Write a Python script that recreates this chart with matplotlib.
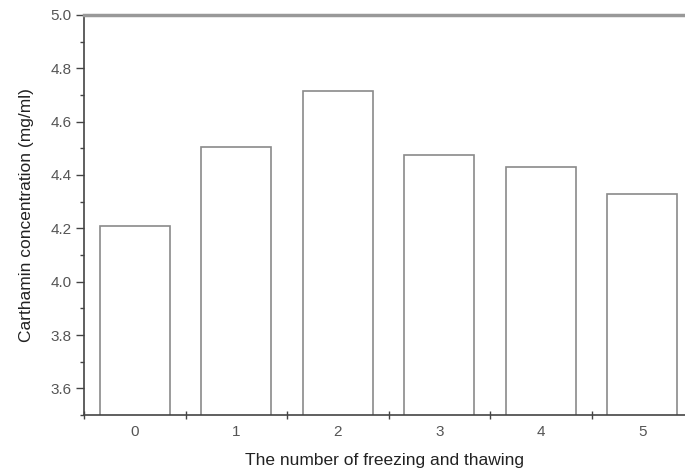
import matplotlib
matplotlib.use('Agg')
import matplotlib.pyplot as plt
from matplotlib.ticker import MultipleLocator, FixedLocator

plt.rcParams['font.family'] = ['Liberation Sans', 'DejaVu Sans']

cycles = [0, 1, 2, 3, 4, 5]
labels = ['0', '1', '2', '3', '4', '5']
conc = [4.21, 4.505, 4.715, 4.475, 4.43, 4.33]

fig = plt.figure(figsize=(6.85, 4.73), dpi=100)
ax = fig.add_axes([84/685, 1 - 415/473, 1 - 84/685, (415 - 15)/473])

ax.bar(cycles, conc, width=0.69, bottom=0, facecolor='white',
       edgecolor='#8a8a8a', linewidth=1.2)

ax.set_ylim(3.5, 5.0)
ax.set_xlim(-0.5, 5.42)

ax.yaxis.set_minor_locator(MultipleLocator(0.1))
ax.set_yticks([3.6, 3.8, 4.0, 4.2, 4.4, 4.6, 4.8, 5.0])
ax.set_yticklabels(['3.6', '3.8', '4.0', '4.2', '4.4', '4.6', '4.8', '5.0'])

ax.set_xticks(cycles)
ax.set_xticklabels(labels)
ax.xaxis.set_minor_locator(FixedLocator([-0.5, 0.5, 1.5, 2.5, 3.5, 4.5]))
ax.tick_params(axis='x', which='major', length=0, pad=7, labelsize=11, colors='#555555')
ax.tick_params(axis='x', which='minor', direction='inout', length=6, width=1, color='#444444')
ax.tick_params(axis='y', which='major', direction='out', length=6, width=1,
               color='#444444', labelsize=11, labelcolor='#555555', pad=3)
ax.tick_params(axis='y', which='minor', direction='out', length=3, width=1, color='#444444')

for s in ['left', 'bottom']:
    ax.spines[s].set_color('#444444')
    ax.spines[s].set_linewidth(1.2)
ax.spines['top'].set_color('#999999')
ax.spines['top'].set_linewidth(2.5)
ax.spines['right'].set_visible(False)

ax.set_xlabel('The number of freezing and thawing', fontsize=12.5, color='#222222', labelpad=10)
ax.set_ylabel('Carthamin concentration (mg/ml)', fontsize=12.5, color='#222222', labelpad=12)

fig.savefig('out.png', dpi=100)
